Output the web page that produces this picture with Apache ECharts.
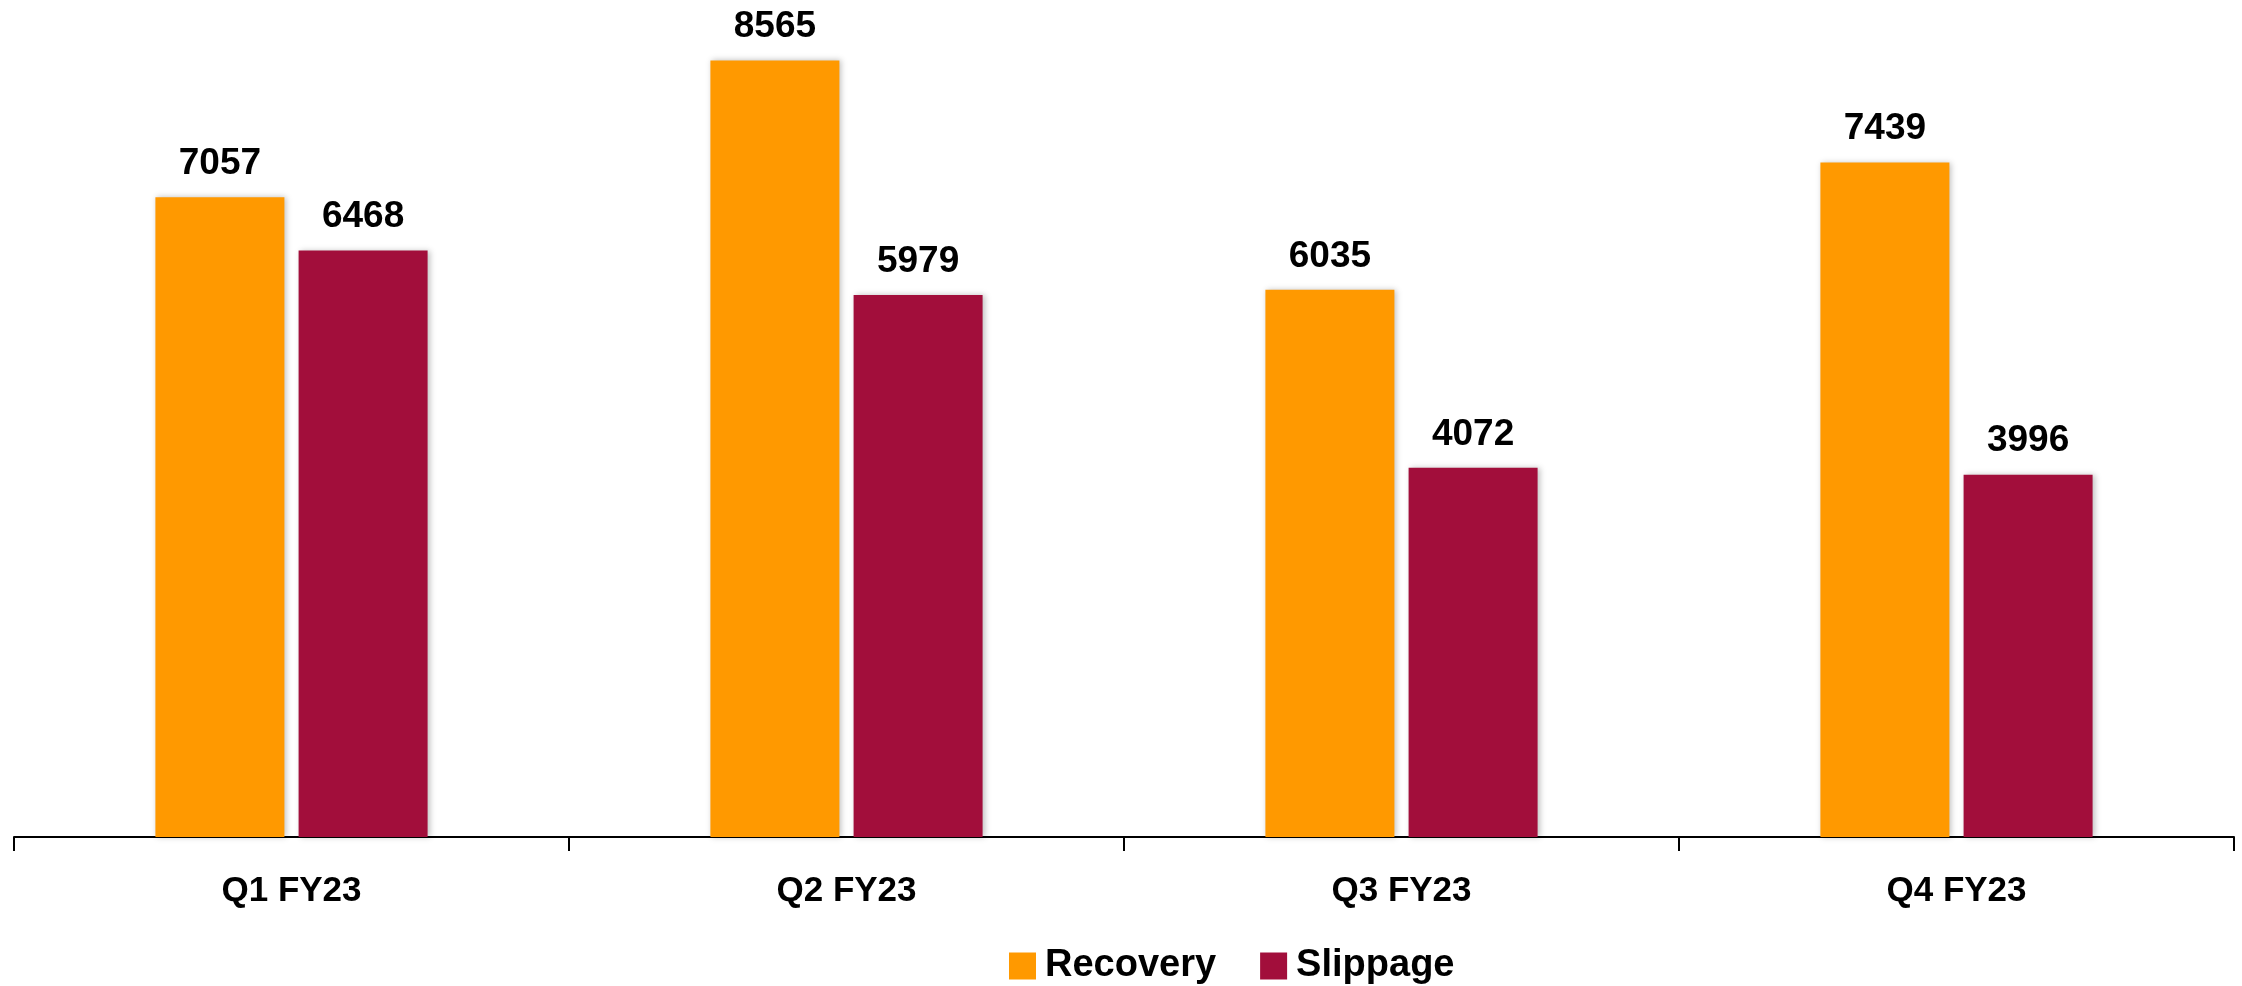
<!DOCTYPE html>
<html>
<head>
<meta charset="utf-8">
<script src="https://cdn.jsdelivr.net/npm/echarts@6/dist/echarts.min.js"></script>
<style>
html,body{margin:0;padding:0;background:#fff;}
#chart{width:2242px;height:986px;}
</style>
</head>
<body>
<div id="chart"></div>
<script>
const categories = ['Q1 FY23', 'Q2 FY23', 'Q3 FY23', 'Q4 FY23'];
const recovery = [7057, 8565, 6035, 7439];
const slippage = [6468, 5979, 4072, 3996];

const FONT = '"Liberation Sans", Arial, sans-serif';
const chart = echarts.init(document.getElementById('chart'));
const labelStyle = {
  show: true, position: 'top', distance: 15,
  color: '#000', fontFamily: FONT, fontWeight: 'bold', fontSize: 37
};
const shadow = { shadowBlur: 6, shadowColor: 'rgba(0,0,0,0.25)', shadowOffsetX: 2, shadowOffsetY: 0 };
chart.setOption({
  backgroundColor: '#fff',
  animation: false,
  grid: { left: 14, right: 8, top: 21, bottom: 149, containLabel: false },
  legend: {
    left: 1004, top: 942,
    itemWidth: 27, itemHeight: 27, itemGap: 44,
    icon: 'rect',
    textStyle: { fontFamily: FONT, fontWeight: 'bold', fontSize: 38, color: '#000', padding: [0,0,0,4] },
    data: ['Recovery', 'Slippage']
  },
  xAxis: {
    type: 'category', data: categories,
    axisLine: { lineStyle: { color: '#000', width: 2 } },
    axisTick: { show: true, length: 14, lineStyle: { color: '#000', width: 2 } },
    axisLabel: { margin: 37, color: '#000', fontFamily: FONT, fontWeight: 'bold', fontSize: 35 }
  },
  yAxis: {
    type: 'value', min: 0, max: 9000, show: false,
    splitLine: { show: false }
  },
  series: [
    { name: 'Recovery', type: 'bar', data: recovery, barWidth: 129, barGap: '11%',
      itemStyle: Object.assign({ color: '#FF9900' }, shadow), label: labelStyle },
    { name: 'Slippage', type: 'bar', data: slippage, barWidth: 129,
      itemStyle: Object.assign({ color: '#A20E3B' }, shadow), label: labelStyle }
  ]
});
</script>
</body>
</html>
